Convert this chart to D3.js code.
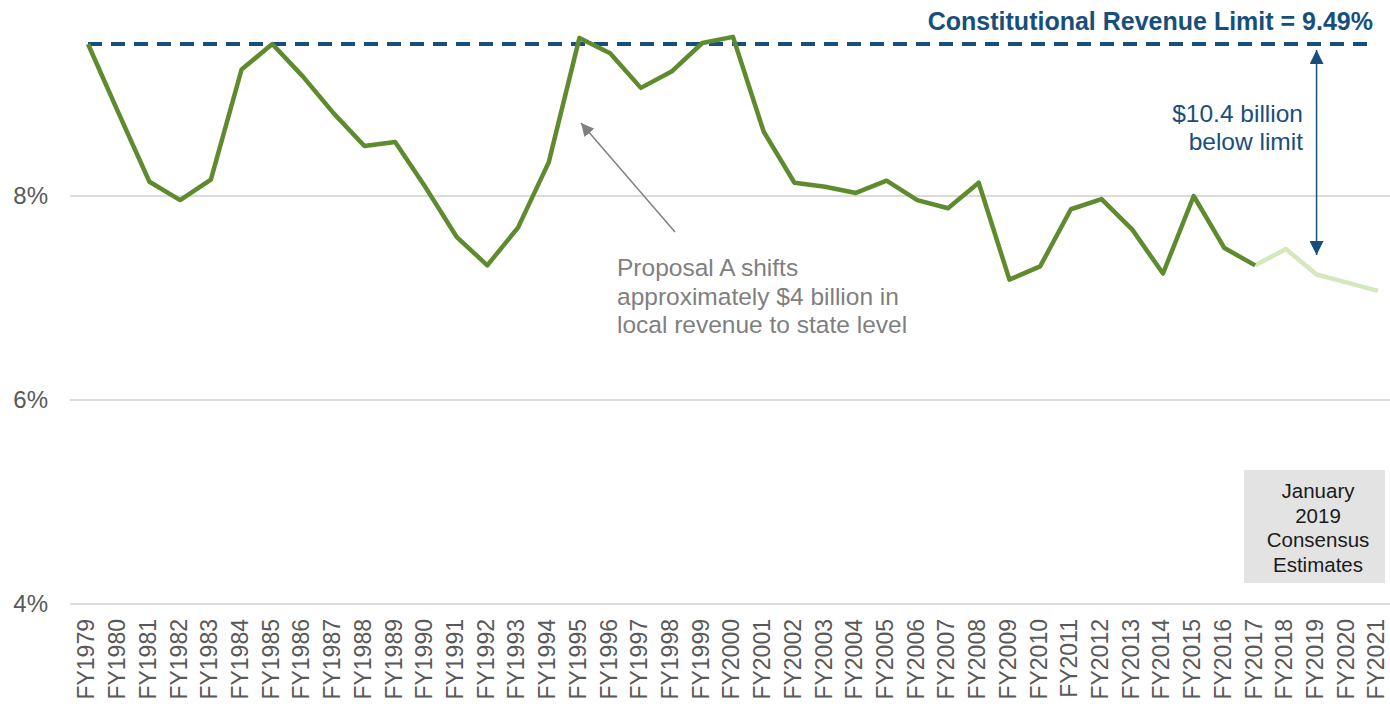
<!DOCTYPE html>
<html>
<head>
<meta charset="utf-8">
<script src="https://cdn.jsdelivr.net/npm/d3@7"></script>
<style>
  body { margin: 0; background: #fff; }
  svg { display: block; font-family: Arial, "Liberation Sans", sans-serif; }
</style>
</head>
<body>
<div id="chart"></div>
<script>
// fiscal years, actual ratio and consensus estimates (% of personal income)
const years = ["FY1979","FY1980","FY1981","FY1982","FY1983","FY1984","FY1985","FY1986","FY1987",
  "FY1988","FY1989","FY1990","FY1991","FY1992","FY1993","FY1994","FY1995","FY1996","FY1997",
  "FY1998","FY1999","FY2000","FY2001","FY2002","FY2003","FY2004","FY2005","FY2006","FY2007",
  "FY2008","FY2009","FY2010","FY2011","FY2012","FY2013","FY2014","FY2015","FY2016","FY2017",
  "FY2018","FY2019","FY2020","FY2021"];

const actual = [9.49, 8.81, 8.14, 7.96, 8.16, 9.24, 9.49, 9.17, 8.81, 8.49, 8.53, 8.08, 7.60,
  7.32, 7.69, 8.33, 9.55, 9.40, 9.06, 9.22, 9.50, 9.56, 8.63, 8.13, 8.09, 8.03, 8.15, 7.96,
  7.88, 8.13, 7.18, 7.31, 7.87, 7.97, 7.67, 7.24, 8.00, 7.49, 7.32];

const estYears = ["FY2017","FY2018","FY2019","FY2020","FY2021"];
const estimate = [7.32, 7.48, 7.23, 7.15, 7.07];

const limit = 9.49;
const yTicks = [4, 6, 8];

const width = 1390, height = 708;

const svg = d3.select("#chart").append("svg")
    .attr("width", width)
    .attr("height", height);

const x = d3.scalePoint()
    .domain(years)
    .range([88, 1378]);

const y = d3.scaleLinear()
    .domain([4, 8])
    .range([604, 196]);

// gridlines
svg.append("g")
    .selectAll("line")
    .data(yTicks)
    .join("line")
    .attr("x1", 70)
    .attr("x2", width)
    .attr("y1", d => y(d))
    .attr("y2", d => y(d))
    .attr("stroke", "#d0d0d0")
    .attr("stroke-width", 1.5);

// y labels
svg.append("g")
    .selectAll("text")
    .data(yTicks)
    .join("text")
    .attr("x", 48)
    .attr("y", d => y(d))
    .attr("dy", "0.35em")
    .attr("text-anchor", "end")
    .style("font-size", "24px")
    .style("fill", "#595959")
    .text(d => d + "%");

// x labels, rotated
svg.append("g")
    .selectAll("text")
    .data(years)
    .join("text")
    .attr("transform", d => `translate(${x(d)}, 619) rotate(-90)`)
    .attr("dy", "0.28em")
    .attr("text-anchor", "end")
    .style("font-size", "23px")
    .style("fill", "#595959")
    .text(d => d);

// estimates box
svg.append("rect")
    .attr("x", 1244)
    .attr("y", 470)
    .attr("width", 141)
    .attr("height", 113)
    .attr("fill", "#e3e3e3");

svg.append("text")
    .attr("text-anchor", "middle")
    .style("font-size", "20.5px")
    .style("fill", "#1a1a1a")
    .selectAll("tspan")
    .data(["January", "2019", "Consensus", "Estimates"])
    .join("tspan")
    .attr("x", 1318)
    .attr("y", (d, i) => 498 + i * 24.5)
    .text(d => d);

// constitutional limit
svg.append("line")
    .attr("x1", x(years[0]))
    .attr("x2", 1373)
    .attr("y1", y(limit))
    .attr("y2", y(limit))
    .attr("stroke", "#174f7c")
    .attr("stroke-width", 4)
    .attr("stroke-dasharray", "14,9");

svg.append("text")
    .attr("x", 1373)
    .attr("y", 21)
    .attr("dy", "0.35em")
    .attr("text-anchor", "end")
    .style("font-size", "25px")
    .style("font-weight", "bold")
    .style("fill", "#174f7c")
    .text("Constitutional Revenue Limit = " + limit + "%");

// lines
const line = d3.line()
    .x(d => x(d[0]))
    .y(d => y(d[1]));

svg.append("path")
    .datum(estYears.map((d, i) => [d, estimate[i]]))
    .attr("d", line)
    .attr("fill", "none")
    .attr("stroke", "#d3e8bf")
    .attr("stroke-width", 4.5)
    .attr("stroke-linejoin", "round");

svg.append("path")
    .datum(actual.map((d, i) => [years[i], d]))
    .attr("d", line)
    .attr("fill", "none")
    .attr("stroke", "#5e8b2e")
    .attr("stroke-width", 4.5)
    .attr("stroke-linejoin", "round");

// markers
const defs = svg.append("defs");
defs.append("marker")
    .attr("id", "blueHead")
    .attr("viewBox", "0 0 10 10")
    .attr("refX", 10).attr("refY", 5)
    .attr("markerWidth", 14).attr("markerHeight", 14)
    .attr("markerUnits", "userSpaceOnUse")
    .attr("orient", "auto-start-reverse")
    .append("path")
    .attr("d", "M0,0 L10,5 L0,10 Z")
    .attr("fill", "#174f7c");
defs.append("marker")
    .attr("id", "grayHead")
    .attr("viewBox", "0 0 10 10")
    .attr("refX", 10).attr("refY", 5)
    .attr("markerWidth", 13).attr("markerHeight", 13)
    .attr("markerUnits", "userSpaceOnUse")
    .attr("orient", "auto")
    .append("path")
    .attr("d", "M0,0 L10,5 L0,10 Z")
    .attr("fill", "#808080");

// gap arrow
svg.append("line")
    .attr("x1", x("FY2019"))
    .attr("x2", x("FY2019"))
    .attr("y1", y(limit) + 6)
    .attr("y2", y(estimate[1]) + 6)
    .attr("stroke", "#174f7c")
    .attr("stroke-width", 1.5)
    .attr("marker-start", "url(#blueHead)")
    .attr("marker-end", "url(#blueHead)");

svg.append("text")
    .attr("text-anchor", "end")
    .style("font-size", "24.5px")
    .style("fill", "#174f7c")
    .selectAll("tspan")
    .data(["$10.4 billion", "below limit"])
    .join("tspan")
    .attr("x", 1303)
    .attr("y", (d, i) => 122 + i * 27.5)
    .text(d => d);

// Proposal A annotation
svg.append("line")
    .attr("x1", 675)
    .attr("y1", 232)
    .attr("x2", 581)
    .attr("y2", 123)
    .attr("stroke", "#808080")
    .attr("stroke-width", 1.5)
    .attr("marker-end", "url(#grayHead)");

svg.append("text")
    .style("font-size", "24.5px")
    .style("fill", "#7f7f7f")
    .selectAll("tspan")
    .data(["Proposal A shifts", "approximately $4 billion in", "local revenue to state level"])
    .join("tspan")
    .attr("x", 617)
    .attr("y", (d, i) => 276 + i * 28.5)
    .text(d => d);
</script>
</body>
</html>
